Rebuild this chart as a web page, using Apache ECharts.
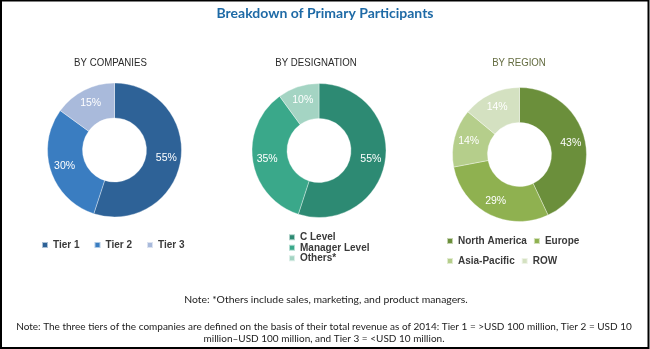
<!DOCTYPE html>
<html>
<head>
<meta charset="utf-8">
<script src="https://cdn.jsdelivr.net/npm/echarts@6/dist/echarts.min.js"></script>
<style>
  html, body { margin: 0; padding: 0; background: #fff; }
  #chart { width: 650px; height: 349px; }
</style>
</head>
<body>
<div id="chart"></div>
<script>
// Share of primary interview participants, three breakdowns
const companyTiers = ['Tier 1', 'Tier 2', 'Tier 3'];
const companyShares = [55, 30, 15];

const designations = ['C Level', 'Manager Level', 'Others*'];
const designationShares = [55, 35, 10];

const regions = ['North America', 'Europe', 'Asia-Pacific', 'ROW'];
const regionShares = [43, 29, 14, 14];

const companyColors = ['#2e6297', '#3a7dc1', '#a9badb'];
const designationColors = ['#2d8a73', '#3aa88a', '#a4d4c3'];
const regionColors = ['#6b8f3b', '#8fb150', '#b5ce8b', '#d4e1c1'];

const chart = echarts.init(document.getElementById('chart'));

function donut(name, labels, values, colors, center) {
  return {
    name: name,
    type: 'pie',
    center: center,
    radius: [32, 67],
    startAngle: 90,
    clockwise: true,
    avoidLabelOverlap: false,
    silent: true,
    itemStyle: { borderColor: 'rgba(255,255,255,0.6)', borderWidth: 0.6 },
    label: {
      show: true,
      position: 'inside',
      formatter: '{c}%',
      color: '#fff',
      fontFamily: 'Liberation Sans, sans-serif',
      fontSize: 10.5
    },
    labelLine: { show: false },
    data: labels.map((l, i) => ({ name: l, value: values[i], itemStyle: { color: colors[i] } }))
  };
}

const legendText = {
  color: '#3a3a3a',
  fontFamily: 'Liberation Sans, sans-serif',
  fontSize: 10,
  fontWeight: 'bold'
};

// Narrowed section headings above each donut
function heading(text, cx, color) {
  return {
    type: 'text',
    x: cx, y: 63,
    scaleX: 0.84,
    style: {
      text: text, fill: color,
      font: '11.5px "Liberation Sans", sans-serif',
      align: 'center', verticalAlign: 'middle'
    },
    silent: true
  };
}

function noteLine(text, cx, cy, size) {
  return {
    type: 'text',
    x: cx, y: cy,
    style: {
      text: text, fill: '#222',
      font: size + 'px Lato, sans-serif',
      align: 'center', verticalAlign: 'middle'
    },
    silent: true
  };
}

chart.setOption({
  animation: false,
  title: {
    text: 'Breakdown of Primary Participants',
    left: 'center', top: 1,
    textStyle: { color: '#1e6aa6', fontFamily: 'Lato, sans-serif', fontWeight: 'bold', fontSize: 14 }
  },
  legend: [
    {
      data: companyTiers,
      left: 36, top: 235,
      orient: 'horizontal',
      itemWidth: 6, itemHeight: 6, itemGap: 14,
      icon: 'rect',
      textStyle: legendText,
      selectedMode: false
    },
    {
      data: designations,
      left: 283, top: 227,
      orient: 'vertical',
      itemWidth: 6, itemHeight: 6, itemGap: 0,
      icon: 'rect',
      textStyle: Object.assign({}, legendText, { lineHeight: 10.5 }),
      selectedMode: false
    },
    {
      data: ['North America', 'Europe'],
      left: 441, top: 231,
      orient: 'horizontal',
      itemWidth: 6, itemHeight: 6, itemGap: 6,
      icon: 'rect',
      textStyle: Object.assign({}, legendText, { width: 68 }),
      selectedMode: false
    },
    {
      data: ['Asia-Pacific', 'ROW'],
      left: 441, top: 251,
      orient: 'horizontal',
      itemWidth: 6, itemHeight: 6, itemGap: 6,
      icon: 'rect',
      textStyle: Object.assign({}, legendText, { width: 68 }),
      selectedMode: false
    }
  ],
  series: [
    donut('BY COMPANIES', companyTiers, companyShares, companyColors, [114.5, 150]),
    donut('BY DESIGNATION', designations, designationShares, designationColors, [319, 150.5]),
    donut('BY REGION', regions, regionShares, regionColors, [519.5, 154.5])
  ],
  graphic: [
    {
      type: 'rect',
      shape: { x: 1, y: 0.5, width: 647.5, height: 347.5 },
      style: { fill: 'none', stroke: '#000', lineWidth: 2 },
      silent: true
    },
    heading('BY COMPANIES', 110.5, '#2a2a2a'),
    heading('BY DESIGNATION', 316, '#2a2a2a'),
    heading('BY REGION', 519, '#646c40'),
    noteLine('Note: *Others include sales, marketing, and product managers.', 326, 299.5, 10.4),
    noteLine('Note: The three tiers of the companies are defined on the basis of their total revenue as of 2014: Tier 1 = >USD 100 million, Tier 2 = USD 10', 324, 327, 10),
    noteLine('million\u2013USD 100 million, and Tier 3 = <USD 10 million.', 324, 338.5, 10)
  ]
});
</script>
</body>
</html>
